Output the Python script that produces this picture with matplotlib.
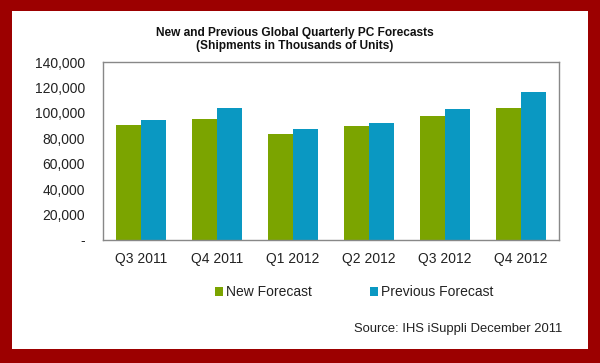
import matplotlib
matplotlib.use("Agg")
import matplotlib.pyplot as plt
import numpy as np
from matplotlib.patches import Rectangle
from matplotlib.ticker import FuncFormatter

categories = ["Q3 2011", "Q4 2011", "Q1 2012", "Q2 2012", "Q3 2012", "Q4 2012"]
new_forecast = [90500, 95000, 83600, 89400, 97300, 103800]
previous_forecast = [94200, 103800, 87600, 92300, 102800, 116100]
yticks = [0, 20000, 40000, 60000, 80000, 100000, 120000, 140000]

plt.rcParams['font.family'] = ['Liberation Sans', 'DejaVu Sans']

W, H = 600, 363
fig = plt.figure(figsize=(6, 3.63), dpi=100, facecolor="#9c0000")
fig.patches.append(Rectangle((12 / W, 1 - 349 / H), (588 - 12) / W, (349 - 11) / H,
                             transform=fig.transFigure, facecolor="white",
                             edgecolor="none", zorder=-10))

ax = fig.add_axes([103 / W, 1 - 240 / H, (559 - 103) / W, (240 - 62) / H])
x = np.arange(len(categories))
bw = 0.33
green = "#7ba400"
blue = "#0a98c2"
ax.bar(x - bw / 2, new_forecast, bw, color=green, label="New Forecast")
ax.bar(x + bw / 2, previous_forecast, bw, color=blue, label="Previous Forecast")

ax.set_xlim(-0.5, len(categories) - 0.5)
ax.set_ylim(0, 140000)
ax.set_yticks(yticks)
ax.yaxis.set_major_formatter(FuncFormatter(lambda v, p: "-" if v == 0 else f"{int(v):,}"))
ax.set_xticks(x)
ax.set_xticklabels(categories)
ax.tick_params(axis="both", length=0, labelsize=10, colors="#222222")
ax.tick_params(axis="y", pad=13)
ax.tick_params(axis="x", pad=9)
for s in ax.spines.values():
    s.set_color("#888888")
    s.set_linewidth(1.0)

fig.text(295 / W, 1 - 33 / H, "New and Previous Global Quarterly PC Forecasts",
         ha="center", va="center", fontsize=8.6, fontweight="bold", color="#111111")
fig.text(295 / W, 1 - 46 / H, "(Shipments in Thousands of Units)",
         ha="center", va="center", fontsize=8.6, fontweight="bold", color="#111111")

leg = fig.legend(loc="center", bbox_to_anchor=(354 / W, 1 - 292 / H), ncol=2,
                 frameon=False, fontsize=10, handlelength=0.6, handleheight=0.6,
                 handletextpad=0.2, columnspacing=4.2)
for t in leg.get_texts():
    t.set_color("#222222")

fig.text(562 / W, 1 - 329 / H, "Source: IHS iSuppli December 2011",
         ha="right", va="center", fontsize=9.4, color="#222222")

fig.savefig("out.png", dpi=100, facecolor=fig.get_facecolor())
